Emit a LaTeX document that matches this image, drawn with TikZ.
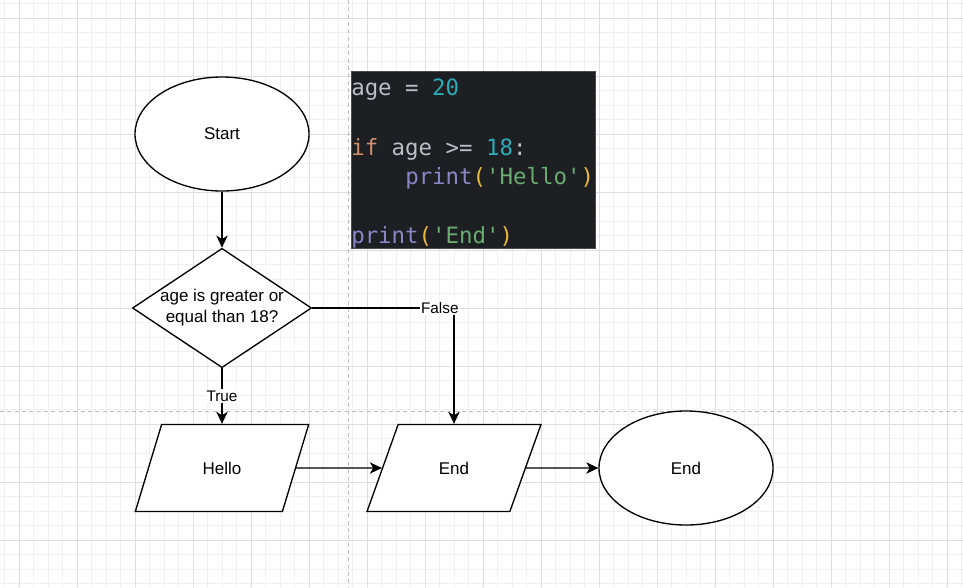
\documentclass[tikz,border=0pt]{standalone}
\usepackage{fontspec}
\setmainfont{Liberation Sans}
\newfontfamily\codefont[Ligatures=TeXOff]{DejaVu Sans Mono}
\usepackage{xcolor}
\usetikzlibrary{shapes.geometric, positioning, arrows.meta}

\definecolor{gridminor}{HTML}{F0F0F0}
\definecolor{gridmajor}{HTML}{DEDEDE}
\definecolor{pagebreak}{HTML}{BDBDBD}
\definecolor{codebg}{HTML}{1E1F22}
\definecolor{codeborder}{HTML}{4A4C50}
\definecolor{codeid}{HTML}{BCBEC4}
\definecolor{codenum}{HTML}{2AACB8}
\definecolor{codekw}{HTML}{CF8E6D}
\definecolor{codefn}{HTML}{8888C6}
\definecolor{codestr}{HTML}{6AAB73}
\definecolor{codepar}{HTML}{E8BA36}

\begin{document}
\begin{tikzpicture}[x=0.75pt, y=-0.75pt,
    flow/.style={draw, line width=1pt, fill=white, inner sep=0pt,
        font=\fontsize{12.75}{15.75}\selectfont},
    terminal/.style={flow, ellipse, minimum width=130.5pt, minimum height=85.5pt},
    decision/.style={flow, diamond, aspect=1.5, align=center,
        minimum width=130.5pt, minimum height=87pt},
    io/.style={flow, trapezium, trapezium left angle=56, trapezium right angle=124,
        trapezium stretches=true, minimum width=130.5pt, minimum height=65.25pt},
    link/.style={-{Stealth[length=9pt, width=8.5pt, inset=2.5pt]}, line width=1pt},
    edgelabel/.style={fill=white, inner sep=1pt, font=\fontsize{11.5}{13}\selectfont},
    codeline/.style={anchor=base west, inner sep=0pt, text=codeid,
        font=\codefont\fontsize{16.8}{22}\selectfont}]
        \useasboundingbox (0,0) rectangle (963,587);

        % Grid
        \fill[white] (0,0) rectangle (963,587);
        \foreach \i in {0,...,66} {
            \draw[gridminor, line width=0.6pt] ({4.8+14.5*\i},0) -- ++(0,587);
        }
        \foreach \i in {0,...,40} {
            \draw[gridminor, line width=0.6pt] (0,{3.8+14.5*\i}) -- ++(963,0);
        }
        \foreach \i in {0,...,16} {
            \draw[gridmajor, line width=0.7pt] ({19.3+58*\i},0) -- ++(0,587);
        }
        \foreach \i in {0,...,10} {
            \draw[gridmajor, line width=0.7pt] (0,{18.3+58*\i}) -- ++(963,0);
        }

        % Page breaks
        \draw[pagebreak, line width=0.7pt, dash pattern=on 3pt off 2.5pt] (348,0) -- (348,587);
        \draw[pagebreak, line width=0.7pt, dash pattern=on 3pt off 2.5pt] (0,411) -- (963,411);

        % Code snippet
        \node[fill=codebg, draw=codeborder, line width=0.7pt, inner sep=0pt,
            minimum width=183pt, minimum height=132.5pt] (codebox) at (473,160) {};
        \node[codeline] (code1) at (351,95) {age = {\color{codenum}20}};
        \node[codeline] (code2) at (351,155) {{\color{codekw}if} age >= {\color{codenum}18}:};
        \node[codeline] (code3) at (405,184) {{\color{codefn}print}{\color{codepar}(}{\color{codestr}'Hello'}{\color{codepar})}};
        \node[codeline] (code4) at (351,243) {{\color{codefn}print}{\color{codepar}(}{\color{codestr}'End'}{\color{codepar})}};

        % Flowchart
        \node[terminal] (start) at (222,134) {Start};
        \node[decision] (check) at (222,308) {age is greater or\\equal than 18?};
        \node[io] (hello) at (222,468) {Hello};
        \node[io] (endio) at (454,468) {End};
        \node[terminal] (stop) at (686,468) {End};

        % Connectors
        \draw[link] (start) -- (check);
        \draw[link] (check) -- node[edgelabel] {True} (hello);
        \draw[link] (check.east) -| node[edgelabel, pos=0.45] {False} (endio.north);
        \draw[link] (hello) -- (endio);
        \draw[link] (endio) -- (stop);
    \end{tikzpicture}
\end{document}
